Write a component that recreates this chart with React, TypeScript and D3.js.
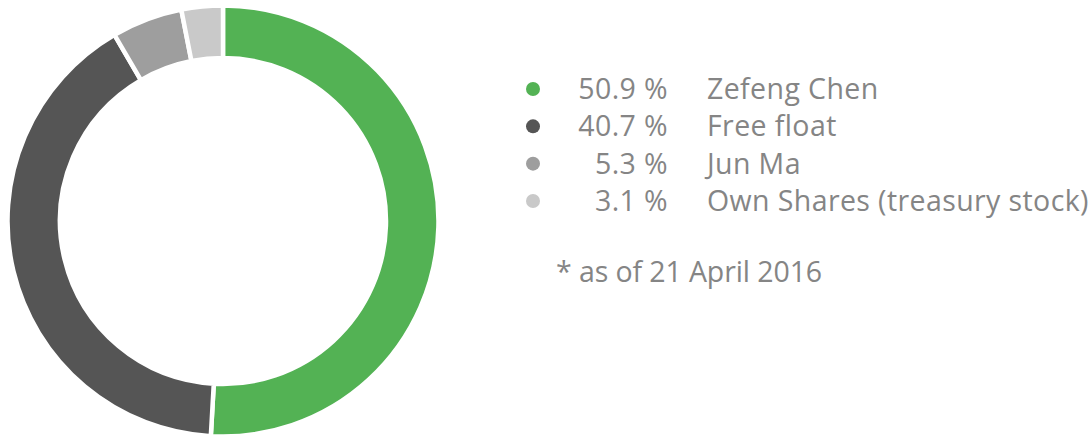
import React from "react";
import * as d3 from "d3";

const labels = ["Zefeng Chen", "Free float", "Jun Ma", "Own Shares (treasury stock)"];
const values = [50.9, 40.7, 5.3, 3.1];
const colors = ["#53b254", "#555555", "#9e9e9e", "#c9c9c9"];
const footnote = "* as of 21 April 2016";

export default function App() {
  const W = 1090, H = 438;
  const cx = 223, cy = 221, R = 215.5, r = 163;
  const pie = d3.pie<number>().sort(null).value((d) => d)(values);
  const arc = d3.arc<d3.PieArcDatum<number>>().innerRadius(r).outerRadius(R);
  const rowY = d3.scaleLinear().domain([0, 3]).range([89, 201]);
  const font = "'Open Sans', sans-serif";
  return (
    <svg width={W} height={H} style={{ position: "absolute", left: 0, top: 0 }}>
      <rect width={W} height={H} fill="#fff" />
      <g transform={`translate(${cx},${cy})`}>
        {pie.map((p, i) => (
          <path key={i} d={arc(p) || ""} fill={colors[i]} stroke="#fff" strokeWidth={4.5} />
        ))}
      </g>
      <g fontFamily={font} fontWeight={400} fill="#858585" fontSize={28.5}>
        {values.map((v, i) => (
          <g key={i} transform={`translate(0,${rowY(i)})`} letterSpacing={0.4}>
            <circle cx={533} cy={0} r={7} fill={colors[i]} />
            <text x={668} dy="0.35em" textAnchor="end">{`${v.toFixed(1)} %`}</text>
            <text x={707} dy="0.35em">{labels[i]}</text>
          </g>
        ))}
        <text x={556} y={272} dy="0.35em" letterSpacing={-0.1}>{footnote}</text>
      </g>
    </svg>
  );
}
